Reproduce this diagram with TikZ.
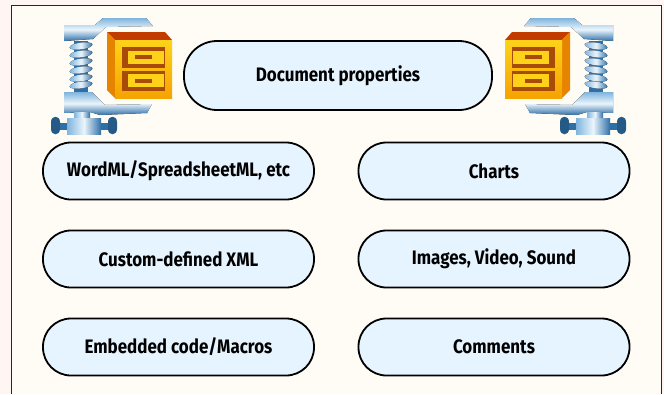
\documentclass[tikz,border=0pt]{standalone}
\usepackage{fontspec}
\setmainfont[FakeStretch=0.87]{Fira Sans}
\definecolor{outerbg}{HTML}{FFF5F2}
\definecolor{innerbg}{HTML}{FFFCF5}
\definecolor{pillfill}{HTML}{E5F4FF}
\definecolor{steelD}{HTML}{2F6FA8}
\definecolor{steelM}{HTML}{7FB4DC}
\definecolor{steelL}{HTML}{EAF5FC}
\definecolor{boxY}{HTML}{FFD21A}
\definecolor{boxO}{HTML}{F5A300}
\definecolor{boxR}{HTML}{C23C00}
\definecolor{boxB}{HTML}{A84A08}
\newcommand{\zipicon}{%
    % upper jaw
    \fill[steelv] (64,25) -- (95,25) -- (103,18) -- (146,18) -- (153,26) -- (106,27) -- (93,39) -- (64,41) -- cycle;
    % screw
    \fill[steelD] (74,41) rectangle (88,92);
    \foreach \yy in {46,54,62,70,78,85}{
      \fill[steel,rotate around={8:(81,\yy)}] (81,\yy) ellipse (11.5 and 3.4);
    }
    % lower jaw
    \fill[steelv] (64,92) -- (92,92) -- (105,105) -- (152,104) -- (147,113) -- (100,115) -- (90,112) -- (64,113) -- cycle;
    % foot
    \fill[steel] (74,112) rectangle (90,118);
    \fill[steelD] (56,123) rectangle (114,130);
    \fill[steelD!80!black] (51,122) .. controls (51,115) and (60,115) .. (60,122) -- (60,129) .. controls (60,136) and (51,136) .. (51,129) -- cycle;
    \fill[steelD!80!black] (108,122) .. controls (108,115) and (117,115) .. (117,122) -- (117,129) .. controls (117,136) and (108,136) .. (108,129) -- cycle;
    \fill[steel] (67,118) rectangle (101,134);
    % cabinet
    \fill[boxR] (107,32) -- (165,32) -- (172,40) -- (115,40) -- cycle;
    \fill[boxO!70!boxR] (107,32) -- (115,40) -- (115,98) -- (107,90) -- cycle;
    \fill[top color=boxY,bottom color=boxO] (115,40) rectangle (172,98);
    % drawers
    \fill[boxB] (122,47) rectangle (165,68);
    \fill[boxB] (122,71) rectangle (165,91);
    \fill[boxY] (128,51) rectangle (164,64);
    \fill[boxY] (128,74) rectangle (164,87);
    \fill[boxB] (135,55) rectangle (152,59);
    \fill[boxB] (135,79) rectangle (152,83);
}
\tikzset{
  x=1pt,y=-1pt,
  pill/.style={draw=black,line width=1.8pt,fill=pillfill,rounded corners=28pt,minimum height=57pt,
    font=\bfseries\fontsize{19.5}{22}\selectfont,inner sep=0pt},
  steel/.style={left color=steelM,right color=steelD,middle color=steelL},
  steelv/.style={top color=steelM,bottom color=steelD,middle color=steelL},
}
\begin{document}
\begin{tikzpicture}
\useasboundingbox (0,0) rectangle (664,394);
\fill[outerbg] (0,0) rectangle (664,394);
\fill[innerbg] (11,5.5) rectangle (661.5,394);
\draw[line width=0.9pt,black!85] (11,394) -- (11,5.5) -- (661.5,5.5) -- (661.5,394);
\zipicon
\begin{scope}[xshift=677pt,xscale=-1]
\zipicon
\end{scope}
\node[pill,minimum width=308pt,minimum height=69pt,rounded corners=33pt] (doc) at (338,75.5) {Document properties};
\node[pill,minimum width=271pt] (word) at (178.5,171) {WordML/SpreadsheetML, etc};
\node[pill,minimum width=271pt] (custom) at (178.5,259) {Custom-defined XML};
\node[pill,minimum width=271pt] (embed) at (178.5,347) {Embedded code/Macros};
\node[pill,minimum width=271pt] (charts) at (494,171) {Charts};
\node[pill,minimum width=271pt] (media) at (494,259) {Images, Video, Sound};
\node[pill,minimum width=271pt] (comments) at (494,347) {Comments};
\end{tikzpicture}
\end{document}
